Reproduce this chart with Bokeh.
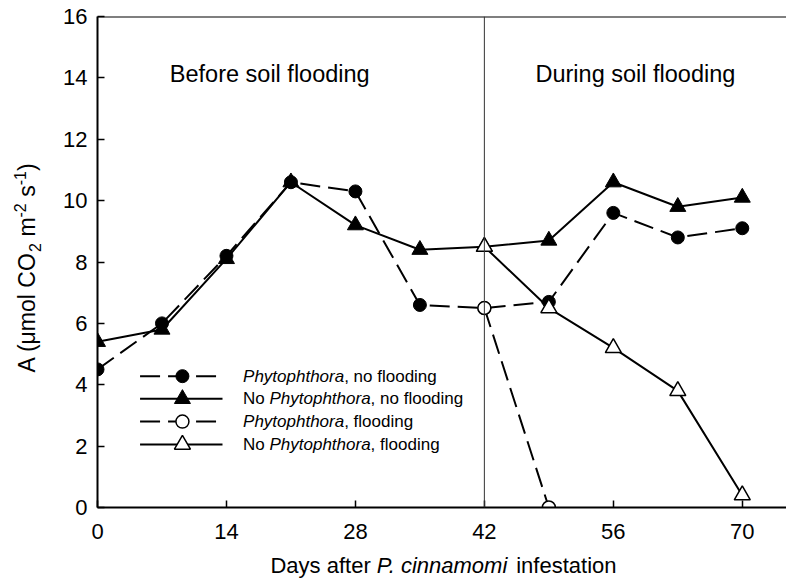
from bokeh.plotting import figure
from bokeh.models import Range1d, Span, Label, FixedTicker
from bokeh.layouts import row, column
from bokeh.embed import file_html
from bokeh.resources import INLINE

# ---------------- data ----------------
days = [0, 7, 14, 21, 28, 35, 42, 49, 56, 63, 70]
phyto_noflood = [4.5, 6.0, 8.2, 10.6, 10.3, 6.6, 6.5, 6.7, 9.6, 8.8, 9.1]
nophyto_noflood = [5.4, 5.8, 8.1, 10.6, 9.2, 8.4, 8.5, 8.7, 10.6, 9.8, 10.1]
flood_days_phyto = [42, 49]
phyto_flood = [6.5, 0.0]
flood_days_nophyto = [42, 49, 56, 63, 70]
nophyto_flood = [8.5, 6.5, 5.2, 3.8, 0.4]
flood_start = 42
x_ticks = [0, 14, 28, 42, 56, 70]
y_ticks = [0, 2, 4, 6, 8, 10, 12, 14, 16]
period_labels = ["Before soil flooding", "During soil flooding"]
legend_rows = [
    [("Phytophthora", "italic"), (", no flooding", "normal")],
    [("No ", "normal"), ("Phytophthora", "italic"), (", no flooding", "normal")],
    [("Phytophthora", "italic"), (", flooding", "normal")],
    [("No ", "normal"), ("Phytophthora", "italic"), (", flooding", "normal")],
]
x_label_parts = [("Days after ", "normal"), ("P. cinnamomi", "italic"), (" infestation", "normal")]
# (text, font size px, baseline shift px: + up / - down)
y_label_parts = [("A (μmol CO", 23, 0), ("2", 16, -5), (" m", 23, 0), ("-2", 16, 10),
                 (" s", 23, 0), ("-1", 16, 10), (")", 23, 0)]

# ---------------- layout / style ----------------
FONT = "Liberation Sans"
DASH = "20 8"
X_END = 74.8
Y_END = 16
YLAB_W = 44
MAIN_W = 786 - YLAB_W
MAIN_H = 545
XLAB_H = 579 - MAIN_H
BORDER_L = 97 - YLAB_W
BASE_FIX = 0.35   # correction (in em) for where the renderer puts the alphabetic baseline

# Arial / Liberation Sans advance widths (per 1000 em)
W = {' ': 278, '(': 333, ')': 333, '-': 333, '.': 278, ',': 278,
     'A': 667, 'B': 667, 'C': 722, 'D': 722, 'N': 722, 'O': 778, 'P': 667,
     'μ': 576, 'a': 556, 'c': 500, 'd': 556, 'e': 556, 'f': 278, 'g': 556,
     'h': 556, 'i': 222, 'l': 222, 'm': 833, 'n': 556, 'o': 556, 'p': 556,
     'r': 333, 's': 500, 't': 278, 'u': 556, 'y': 500}
for dgt in "0123456789":
    W[dgt] = 556


def adv(text, size):
    return sum(W.get(c, 556) for c in text) * size / 1000.0


def split_space(txt):
    """Return (leading spaces, visible text) since SVG drops edge spaces."""
    stripped = txt.lstrip(" ")
    lead = txt[:len(txt) - len(stripped)]
    return lead, stripped.rstrip(" ")


def style_blank(f):
    f.outline_line_color = None
    f.grid.visible = False
    return f


p = figure(width=MAIN_W, height=MAIN_H, x_range=Range1d(0, X_END), y_range=Range1d(0, Y_END),
           output_backend="svg", toolbar_location=None,
           min_border_left=BORDER_L, min_border_right=0, min_border_top=16, min_border_bottom=38)
p.outline_line_color = None
p.xgrid.visible = False
p.ygrid.visible = False

for ax, ticks, stand in ((p.xaxis, x_ticks, 16), (p.yaxis, y_ticks, 10)):
    ax.ticker = FixedTicker(ticks=ticks)
    ax.major_tick_in = 7
    ax.major_tick_out = 0
    ax.minor_tick_in = 0
    ax.minor_tick_out = 0
    ax.axis_line_width = 2
    ax.axis_line_color = "black"
    ax.major_tick_line_width = 1.5
    ax.major_tick_line_color = "black"
    ax.major_label_text_font = FONT
    ax.major_label_text_font_size = "22px"
    ax.major_label_text_color = "black"
    ax.major_label_standoff = stand

# top frame line and flooding start line
p.add_layout(Span(location=Y_END, dimension="width", line_color="black", line_width=2))
p.add_layout(Span(location=flood_start, dimension="height", line_color="#333333", line_width=1))

# ---------------- series ----------------
p.line(days, phyto_noflood, line_color="black", line_width=2, line_dash=DASH)
p.line(days, nophyto_noflood, line_color="black", line_width=2)
p.line(flood_days_phyto, phyto_flood, line_color="black", line_width=2, line_dash=DASH)
p.line(flood_days_nophyto, nophyto_flood, line_color="black", line_width=2)

p.scatter(days, phyto_noflood, marker="circle", size=13, fill_color="black", line_color="black")
p.scatter(days, nophyto_noflood, marker="triangle", size=16, fill_color="black", line_color="black")
p.scatter(flood_days_phyto, phyto_flood, marker="circle", size=13, fill_color="white",
          line_color="black", line_width=1.5)
p.scatter(flood_days_nophyto, nophyto_flood, marker="triangle", size=16, fill_color="white",
          line_color="black", line_width=1.5)

# ---------------- period labels ----------------
PER_SIZE = 23.5
for txt, xc in zip(period_labels, (18.7, 58.4)):
    p.add_layout(Label(x=xc, y=13.86, y_offset=BASE_FIX * PER_SIZE, text=txt,
                       text_align="center", text_baseline="alphabetic",
                       text_font=FONT, text_font_size=f"{PER_SIZE}px", text_color="black"))

# ---------------- legend ----------------
LEG_SIZE = 17
leg_rows_y = [4.28, 3.54, 2.80, 2.05]
leg_x0, leg_x1, leg_xm, leg_xt = 4.62, 13.57, 9.22, 15.8
leg_styles = [
    dict(dash=DASH, marker="circle", size=13, fill="black", lw=1),
    dict(dash="solid", marker="triangle", size=16, fill="black", lw=1),
    dict(dash=DASH, marker="circle", size=13, fill="white", lw=1.5),
    dict(dash="solid", marker="triangle", size=16, fill="white", lw=1.5),
]
for yrow, st, parts in zip(leg_rows_y, leg_styles, legend_rows):
    p.line([leg_x0, leg_x1], [yrow, yrow], line_color="black", line_width=2, line_dash=st["dash"])
    p.scatter([leg_xm], [yrow], marker=st["marker"], size=st["size"], fill_color=st["fill"],
              line_color="black", line_width=st["lw"])
    off = 0.0
    for txt, style in parts:
        lead, vis = split_space(txt)
        p.add_layout(Label(x=leg_xt, y=yrow, x_offset=off + adv(lead, LEG_SIZE),
                           y_offset=-6 + BASE_FIX * LEG_SIZE, text=vis,
                           text_align="left", text_baseline="alphabetic", text_font=FONT,
                           text_font_size=f"{LEG_SIZE}px", text_font_style=style,
                           text_color="black"))
        off += adv(txt, LEG_SIZE)

# ---------------- x axis label (mixed italic), strip below sharing the x range ----------------
XL_SIZE = 22
xlab = figure(width=MAIN_W, height=XLAB_H, x_range=p.x_range, y_range=Range1d(0, XLAB_H),
              x_axis_type=None, y_axis_type=None, output_backend="svg", toolbar_location=None,
              min_border_left=BORDER_L, min_border_right=0, min_border_top=0, min_border_bottom=0)
style_blank(xlab)
off = 0.0
for txt, style in x_label_parts:
    lead, vis = split_space(txt)
    xlab.add_layout(Label(x=18.78, x_offset=off + adv(lead, XL_SIZE), y=6 + BASE_FIX * XL_SIZE,
                          text=vis, text_align="left", text_baseline="alphabetic",
                          text_font=FONT, text_font_size=f"{XL_SIZE}px", text_font_style=style,
                          text_color="black"))
    off += adv(txt, XL_SIZE)

# ---------------- y axis label (sub/superscripts, rotated), strip on the left ----------------
ylab = figure(width=YLAB_W, height=579, x_range=Range1d(0, YLAB_W), y_range=Range1d(0, 579),
              x_axis_type=None, y_axis_type=None, output_backend="svg", toolbar_location=None,
              min_border=0)
style_blank(ylab)
off = 207.0
for txt, size, shift in y_label_parts:
    lead, vis = split_space(txt)
    ylab.add_layout(Label(x=35 - shift - BASE_FIX * size, y=off + adv(lead, size), text=vis,
                          angle=1.5707963, text_align="left",
                          text_baseline="alphabetic", text_font=FONT,
                          text_font_size=f"{size}px", text_color="black"))
    off += adv(txt, size)

layout = row(ylab, column(p, xlab))
open("out.html", "w").write(file_html(layout, INLINE))
